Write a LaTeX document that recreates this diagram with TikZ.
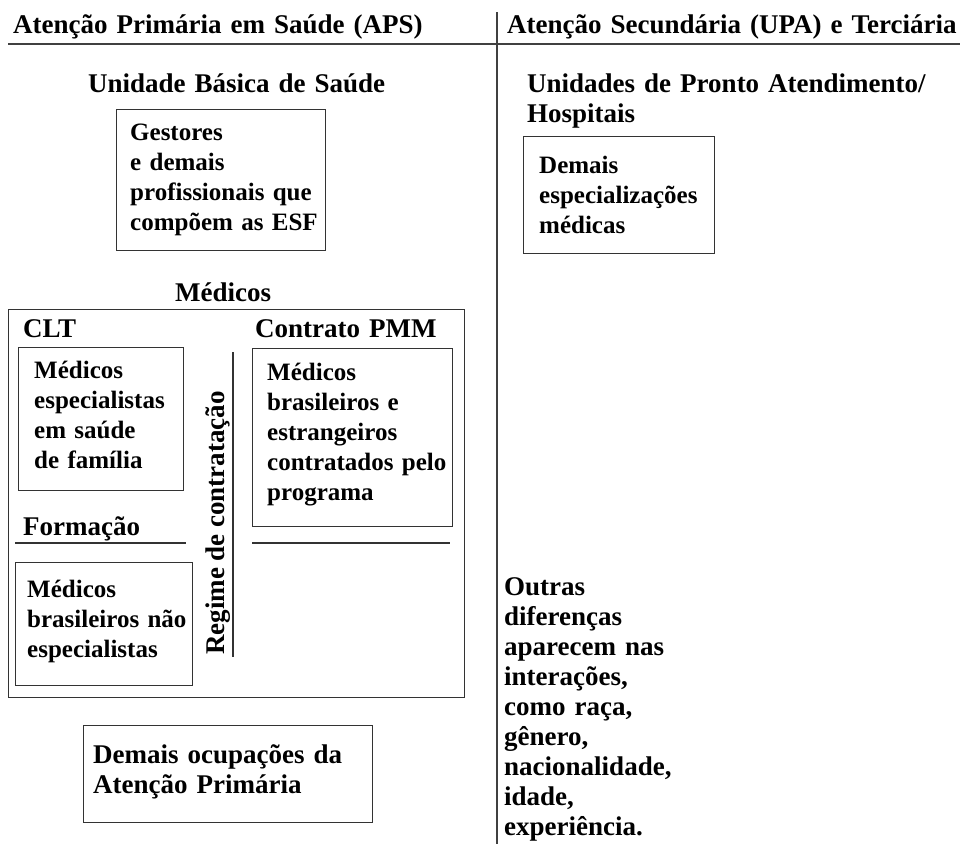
\documentclass[tikz,border=0pt]{standalone}
\usepackage{fontspec}
\setmainfont{Liberation Serif}
\newcommand{\corpo}{\fontsize{25}{30}\selectfont\bfseries}
\newcommand{\titulo}{\fontsize{27}{30}\selectfont\bfseries}

\tikzset{
  caixa/.style={draw=black!80, line width=1.3pt, anchor=north west, inner sep=0pt},
  texto/.style={anchor=base west, align=left, text width=500pt, inner sep=0pt, font=\corpo},
  rotulo/.style={texto, font=\titulo},
  divisa/.style={draw=black!75, line width=1.6pt},
  fio/.style={draw=black!80, line width=1.2pt},
}

\begin{document}
\begin{tikzpicture}[x=1pt,y=-1pt]
    \useasboundingbox (0,0) rectangle (960,844);

    %% Cabecalho
    \node[rotulo] (aps) at (13,33) {Atenção Primária em Saúde (APS)};
    \node[rotulo] (upa) at (507,33) {Atenção Secundária (UPA) e Terciária};
    \draw[divisa] (8,44) -- (960,44);
    \draw[divisa] (497,12) -- (497,844);

    %% Unidade basica
    \node[rotulo] (ubs) at (88,92) {Unidade Básica de Saúde};
    \node[caixa, minimum width=209, minimum height=141] (gestores) at (116,109) {};
    \node[texto] (gestoresTxt) at ([shift={(14,31)}]gestores.north west)
        {Gestores\\e demais\\profissionais que\\compõem as ESF};

    %% Pronto atendimento
    \node[rotulo] (hosp) at (527,92) {Unidades de Pronto Atendimento/\\Hospitais};
    \node[caixa, minimum width=191, minimum height=117] (espec) at (523,136) {};
    \node[texto] (especTxt) at ([shift={(16,37)}]espec.north west)
        {Demais\\especializações\\médicas};

    %% Medicos
    \node[rotulo] (medicos) at (175,301) {Médicos};
    \node[caixa, minimum width=456, minimum height=388] (quadro) at (8,309) {};
    \node[rotulo] (clt) at (23,337) {CLT};
    \node[rotulo] (pmm) at (255,337) {Contrato PMM};

    \node[caixa, minimum width=165, minimum height=143] (mfc) at (18,347) {};
    \node[texto] (mfcTxt) at ([shift={(16,31)}]mfc.north west)
        {Médicos\\especialistas\\em saúde\\de família};

    \node[caixa, minimum width=200, minimum height=178] (prog) at (252,348) {};
    \node[texto] (progTxt) at ([shift={(15,32)}]prog.north west)
        {Médicos\\brasileiros e\\estrangeiros\\contratados pelo\\programa};

    \node[rotulo] (formacao) at (23,535) {Formação};
    \draw[fio] (15,543) -- (186,543);
    \draw[fio] (252,543) -- (450,543);

    \node[caixa, minimum width=177, minimum height=123] (naoesp) at (15,562) {};
    \node[texto] (naoespTxt) at ([shift={(12,35)}]naoesp.north west)
        {Médicos\\brasileiros não\\especialistas};

    \node[font=\titulo, inner sep=0pt, anchor=base, rotate=90] (regime) at (224,523)
        {Regime de contratação};
    \draw[fio] (233,352) -- (233,657);

    %% Demais ocupacoes
    \node[caixa, minimum width=289, minimum height=97] (ocup) at (83,725) {};
    \node[rotulo] (ocupTxt) at ([shift={(10,38)}]ocup.north west)
        {Demais ocupações da\\Atenção Primária};

    %% Outras diferencas
    \node[rotulo] (outras) at (504,595)
        {Outras\\diferenças\\aparecem nas\\interações,\\como raça,\\gênero,\\nacionalidade,\\idade,\\experiência.};
\end{tikzpicture}
\end{document}
